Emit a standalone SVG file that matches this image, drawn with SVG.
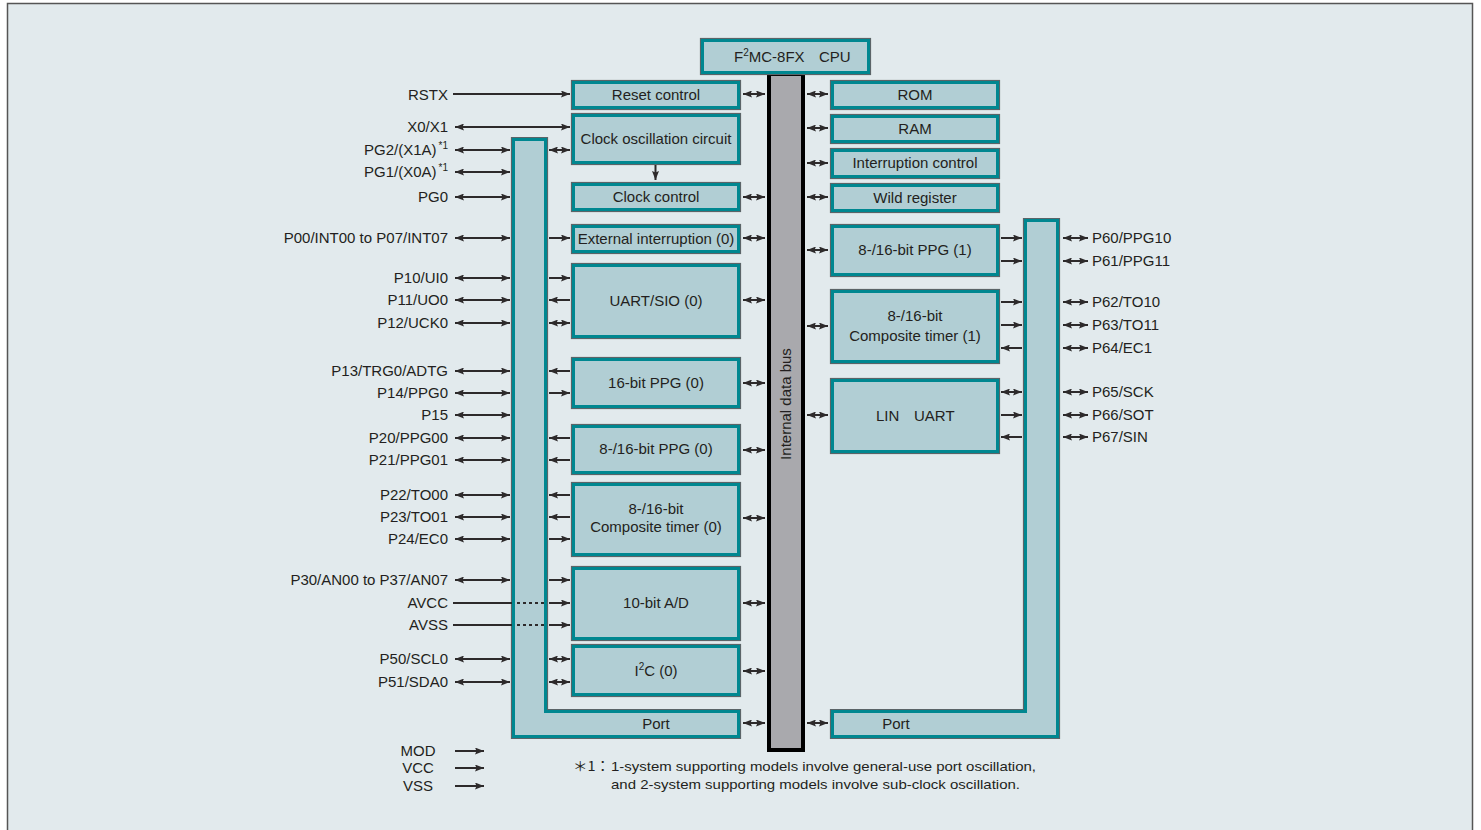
<svg xmlns="http://www.w3.org/2000/svg" width="1481" height="830" viewBox="0 0 1481 830">
<style>
text{font-family:"Liberation Sans",Arial,"Noto Sans CJK JP",sans-serif;font-size:15px;fill:#231f20}
.r{text-anchor:end}
.m{text-anchor:middle}
.ol{fill:none;stroke:#5b6468;stroke-width:1.2}
.bx{fill:#b1ced4;stroke:#008790;stroke-width:3}
.c line{stroke:#2d2a2b;stroke-width:2}
.c .a{marker-end:url(#ah)}
.c .d{marker-start:url(#ah);marker-end:url(#ah)}
.c .dot{stroke-dasharray:3 3;stroke-width:2}
.sup{font-size:10px}
.note{font-size:13.5px}
</style>
<defs>
<marker id="ah" markerUnits="userSpaceOnUse" markerWidth="9" markerHeight="7" refX="9" refY="3.5" orient="auto-start-reverse">
<path d="M0,0 L9,3.5 L0,7 L1.5,3.5 Z" fill="#2d2a2b"/>
</marker>
</defs>
<rect x="0" y="0" width="1481" height="830" fill="#ffffff"/>
<rect x="7.5" y="3.5" width="1465" height="840" fill="#e2eaed" stroke="#555" stroke-width="1.5"/>

<g id="bus">
<rect x="769" y="74" width="34" height="676" fill="#a9a9ad" stroke="#000" stroke-width="4"/>
<text class="m" transform="translate(791,404) rotate(-90)">Internal data bus</text>
</g>
<g id="cpu">
<rect class="ol" x="700.5" y="38.5" width="170" height="36"/>
<rect class="bx" x="702.5" y="40.5" width="166" height="32"/>
<text x="734" y="62">F<tspan class="sup" dy="-6">2</tspan><tspan dy="6">MC-8FX</tspan><tspan x="819">CPU</tspan></text>
</g>

<g id="reset">
<rect class="ol" x="571.5" y="80.5" width="169" height="29"/>
<rect class="bx" x="573.5" y="82.5" width="165" height="25"/>
<text class="m" x="656" y="100">Reset control</text>
</g>
<g id="clkosc">
<rect class="ol" x="571.5" y="113.5" width="169" height="51"/>
<rect class="bx" x="573.5" y="115.5" width="165" height="47"/>
<text class="m" x="656" y="144">Clock oscillation circuit</text>
</g>
<g id="clkctl">
<rect class="ol" x="571.5" y="182.5" width="169" height="29"/>
<rect class="bx" x="573.5" y="184.5" width="165" height="25"/>
<text class="m" x="656" y="202">Clock control</text>
</g>
<g id="extint">
<rect class="ol" x="571.5" y="224.5" width="169" height="29"/>
<rect class="bx" x="573.5" y="226.5" width="165" height="25"/>
<text class="m" x="656" y="244">External interruption (0)</text>
</g>
<g id="uart0">
<rect class="ol" x="571.5" y="263.5" width="169" height="75"/>
<rect class="bx" x="573.5" y="265.5" width="165" height="71"/>
<text class="m" x="656" y="306">UART/SIO (0)</text>
</g>
<g id="ppg16">
<rect class="ol" x="571.5" y="357.5" width="169" height="51"/>
<rect class="bx" x="573.5" y="359.5" width="165" height="47"/>
<text class="m" x="656" y="388">16-bit PPG (0)</text>
</g>
<g id="ppg0">
<rect class="ol" x="571.5" y="424.5" width="169" height="50"/>
<rect class="bx" x="573.5" y="426.5" width="165" height="46"/>
<text class="m" x="656" y="454">8-/16-bit PPG (0)</text>
</g>
<g id="ct0">
<rect class="ol" x="571.5" y="482.5" width="169" height="74"/>
<rect class="bx" x="573.5" y="484.5" width="165" height="70"/>
<text class="m" x="656" y="514">8-/16-bit</text>
<text class="m" x="656" y="532">Composite timer (0)</text>
</g>
<g id="ad">
<rect class="ol" x="571.5" y="566.5" width="169" height="74"/>
<rect class="bx" x="573.5" y="568.5" width="165" height="70"/>
<text class="m" x="656" y="608">10-bit A/D</text>
</g>
<g id="i2c">
<rect class="ol" x="571.5" y="644.5" width="169" height="52"/>
<rect class="bx" x="573.5" y="646.5" width="165" height="48"/>
<text class="m" x="656" y="676">I<tspan class="sup" dy="-6">2</tspan><tspan dy="6">C (0)</tspan></text>
</g>
<g id="portL">
<path class="ol" d="M511.5,137.5 H547.5 V709.5 H740.5 V738.5 H511.5 Z"/>
<path class="bx" d="M513.5,139.5 H545.5 V711.5 H738.5 V736.5 H513.5 Z"/>
<text class="m" x="656" y="729">Port</text>
</g>

<g id="rom">
<rect class="ol" x="830.5" y="80.5" width="169" height="29"/>
<rect class="bx" x="832.5" y="82.5" width="165" height="25"/>
<text class="m" x="915" y="100">ROM</text>
</g>
<g id="ram">
<rect class="ol" x="830.5" y="114.5" width="169" height="29"/>
<rect class="bx" x="832.5" y="116.5" width="165" height="25"/>
<text class="m" x="915" y="134">RAM</text>
</g>
<g id="intctl">
<rect class="ol" x="830.5" y="148.5" width="169" height="30"/>
<rect class="bx" x="832.5" y="150.5" width="165" height="26"/>
<text class="m" x="915" y="168">Interruption control</text>
</g>
<g id="wild">
<rect class="ol" x="830.5" y="183.5" width="169" height="29"/>
<rect class="bx" x="832.5" y="185.5" width="165" height="25"/>
<text class="m" x="915" y="203">Wild register</text>
</g>
<g id="ppg1">
<rect class="ol" x="830.5" y="224.5" width="169" height="52"/>
<rect class="bx" x="832.5" y="226.5" width="165" height="48"/>
<text class="m" x="915" y="255">8-/16-bit PPG (1)</text>
</g>
<g id="ct1">
<rect class="ol" x="830.5" y="289.5" width="169" height="74"/>
<rect class="bx" x="832.5" y="291.5" width="165" height="70"/>
<text class="m" x="915" y="321">8-/16-bit</text>
<text class="m" x="915" y="341">Composite timer (1)</text>
</g>
<g id="lin">
<rect class="ol" x="830.5" y="378.5" width="169" height="75"/>
<rect class="bx" x="832.5" y="380.5" width="165" height="71"/>
<text x="876" y="421">LIN<tspan x="914">UART</tspan></text>
</g>
<g id="portR">
<path class="ol" d="M1023.5,218.5 H1059.5 V738.5 H830.5 V709.5 H1023.5 Z"/>
<path class="bx" d="M1025.5,220.5 H1057.5 V736.5 H832.5 V711.5 H1025.5 Z"/>
<text class="m" x="896" y="729">Port</text>
</g>

<g id="labels-left">
<text class="r" x="448" y="100">RSTX</text>
<text class="r" x="448" y="132">X0/X1</text>
<text class="r" x="448" y="155">PG2/(X1A)<tspan class="sup" dx="2" dy="-6">*1</tspan></text>
<text class="r" x="448" y="177">PG1/(X0A)<tspan class="sup" dx="2" dy="-6">*1</tspan></text>
<text class="r" x="448" y="202">PG0</text>
<text class="r" x="448" y="243">P00/INT00 to P07/INT07</text>
<text class="r" x="448" y="283">P10/UI0</text>
<text class="r" x="448" y="305">P11/UO0</text>
<text class="r" x="448" y="328">P12/UCK0</text>
<text class="r" x="448" y="376">P13/TRG0/ADTG</text>
<text class="r" x="448" y="398">P14/PPG0</text>
<text class="r" x="448" y="420">P15</text>
<text class="r" x="448" y="443">P20/PPG00</text>
<text class="r" x="448" y="465">P21/PPG01</text>
<text class="r" x="448" y="500">P22/TO00</text>
<text class="r" x="448" y="522">P23/TO01</text>
<text class="r" x="448" y="544">P24/EC0</text>
<text class="r" x="448" y="585">P30/AN00 to P37/AN07</text>
<text class="r" x="448" y="608">AVCC</text>
<text class="r" x="448" y="630">AVSS</text>
<text class="r" x="448" y="664">P50/SCL0</text>
<text class="r" x="448" y="687">P51/SDA0</text>
<text class="m" x="418" y="756">MOD</text>
<text class="m" x="418" y="773">VCC</text>
<text class="m" x="418" y="791">VSS</text>
</g>
<g id="labels-right">
<text x="1092" y="243">P60/PPG10</text>
<text x="1092" y="266">P61/PPG11</text>
<text x="1092" y="307">P62/TO10</text>
<text x="1092" y="330">P63/TO11</text>
<text x="1092" y="353">P64/EC1</text>
<text x="1092" y="397">P65/SCK</text>
<text x="1092" y="420">P66/SOT</text>
<text x="1092" y="442">P67/SIN</text>
</g>
<g id="note">
<text class="note" x="573" y="771" style="font-family:'Noto Sans CJK JP',sans-serif" textLength="37" lengthAdjust="spacingAndGlyphs">＊1：</text>
<text class="note" x="611" y="771" textLength="425" lengthAdjust="spacingAndGlyphs">1-system supporting models involve general-use port oscillation,</text>
<text class="note" x="611" y="789" textLength="409" lengthAdjust="spacingAndGlyphs">and 2-system supporting models involve sub-clock oscillation.</text>
</g>

<g id="connectors" class="c">
<line class="a" x1="453" y1="94" x2="570" y2="94"/>
<line class="d" x1="455" y1="127" x2="570" y2="127"/>
<line class="d" x1="455" y1="150" x2="510" y2="150"/>
<line class="d" x1="455" y1="172" x2="510" y2="172"/>
<line class="d" x1="455" y1="197" x2="510" y2="197"/>
<line class="d" x1="455" y1="238" x2="510" y2="238"/>
<line class="d" x1="455" y1="278" x2="510" y2="278"/>
<line class="d" x1="455" y1="300" x2="510" y2="300"/>
<line class="d" x1="455" y1="323" x2="510" y2="323"/>
<line class="d" x1="455" y1="371" x2="510" y2="371"/>
<line class="d" x1="455" y1="393" x2="510" y2="393"/>
<line class="d" x1="455" y1="415" x2="510" y2="415"/>
<line class="d" x1="455" y1="438" x2="510" y2="438"/>
<line class="d" x1="455" y1="460" x2="510" y2="460"/>
<line class="d" x1="455" y1="495" x2="510" y2="495"/>
<line class="d" x1="455" y1="517" x2="510" y2="517"/>
<line class="d" x1="455" y1="539" x2="510" y2="539"/>
<line class="d" x1="455" y1="580" x2="510" y2="580"/>
<line x1="453" y1="603" x2="512" y2="603"/>
<line class="dot" x1="517" y1="603" x2="545" y2="603"/>
<line x1="453" y1="625" x2="512" y2="625"/>
<line class="dot" x1="517" y1="625" x2="545" y2="625"/>
<line class="d" x1="455" y1="659" x2="510" y2="659"/>
<line class="d" x1="455" y1="682" x2="510" y2="682"/>

<line class="d" x1="549" y1="150" x2="570" y2="150"/>
<line class="a" x1="655.5" y1="165" x2="655.5" y2="180"/>
<line class="a" x1="549" y1="238" x2="570" y2="238"/>
<line class="a" x1="549" y1="278" x2="570" y2="278"/>
<line class="a" x1="570" y1="300" x2="549" y2="300"/>
<line class="d" x1="549" y1="323" x2="570" y2="323"/>
<line class="a" x1="570" y1="371" x2="549" y2="371"/>
<line class="a" x1="549" y1="393" x2="570" y2="393"/>
<line class="a" x1="570" y1="438" x2="549" y2="438"/>
<line class="a" x1="570" y1="460" x2="549" y2="460"/>
<line class="a" x1="570" y1="495" x2="549" y2="495"/>
<line class="a" x1="570" y1="517" x2="549" y2="517"/>
<line class="a" x1="549" y1="539" x2="570" y2="539"/>
<line class="a" x1="549" y1="580" x2="570" y2="580"/>
<line class="a" x1="549" y1="603" x2="570" y2="603"/>
<line class="a" x1="549" y1="625" x2="570" y2="625"/>
<line class="d" x1="549" y1="659" x2="570" y2="659"/>
<line class="d" x1="549" y1="682" x2="570" y2="682"/>

<line class="d" x1="743" y1="94" x2="765" y2="94"/>
<line class="d" x1="743" y1="197" x2="765" y2="197"/>
<line class="d" x1="743" y1="238" x2="765" y2="238"/>
<line class="d" x1="743" y1="300" x2="765" y2="300"/>
<line class="d" x1="743" y1="383" x2="765" y2="383"/>
<line class="d" x1="743" y1="450" x2="765" y2="450"/>
<line class="d" x1="743" y1="518" x2="765" y2="518"/>
<line class="d" x1="743" y1="603" x2="765" y2="603"/>
<line class="d" x1="743" y1="671" x2="765" y2="671"/>
<line class="d" x1="743" y1="723" x2="765" y2="723"/>

<line class="d" x1="807" y1="94" x2="828" y2="94"/>
<line class="d" x1="807" y1="128" x2="828" y2="128"/>
<line class="d" x1="807" y1="163" x2="828" y2="163"/>
<line class="d" x1="807" y1="197" x2="828" y2="197"/>
<line class="d" x1="807" y1="250" x2="828" y2="250"/>
<line class="d" x1="807" y1="326" x2="828" y2="326"/>
<line class="d" x1="807" y1="415" x2="828" y2="415"/>
<line class="d" x1="807" y1="723" x2="828" y2="723"/>

<line class="a" x1="1001" y1="238" x2="1022" y2="238"/>
<line class="a" x1="1001" y1="261" x2="1022" y2="261"/>
<line class="a" x1="1001" y1="302" x2="1022" y2="302"/>
<line class="a" x1="1001" y1="325" x2="1022" y2="325"/>
<line class="a" x1="1022" y1="348" x2="1001" y2="348"/>
<line class="d" x1="1001" y1="392" x2="1022" y2="392"/>
<line class="a" x1="1001" y1="415" x2="1022" y2="415"/>
<line class="a" x1="1022" y1="437" x2="1001" y2="437"/>

<line class="d" x1="1063" y1="238" x2="1088" y2="238"/>
<line class="d" x1="1063" y1="261" x2="1088" y2="261"/>
<line class="d" x1="1063" y1="302" x2="1088" y2="302"/>
<line class="d" x1="1063" y1="325" x2="1088" y2="325"/>
<line class="d" x1="1063" y1="348" x2="1088" y2="348"/>
<line class="d" x1="1063" y1="392" x2="1088" y2="392"/>
<line class="d" x1="1063" y1="415" x2="1088" y2="415"/>
<line class="d" x1="1063" y1="437" x2="1088" y2="437"/>

<line class="a" x1="455" y1="751" x2="484" y2="751"/>
<line class="a" x1="455" y1="768" x2="484" y2="768"/>
<line class="a" x1="455" y1="786" x2="484" y2="786"/>
</g>
</svg>
